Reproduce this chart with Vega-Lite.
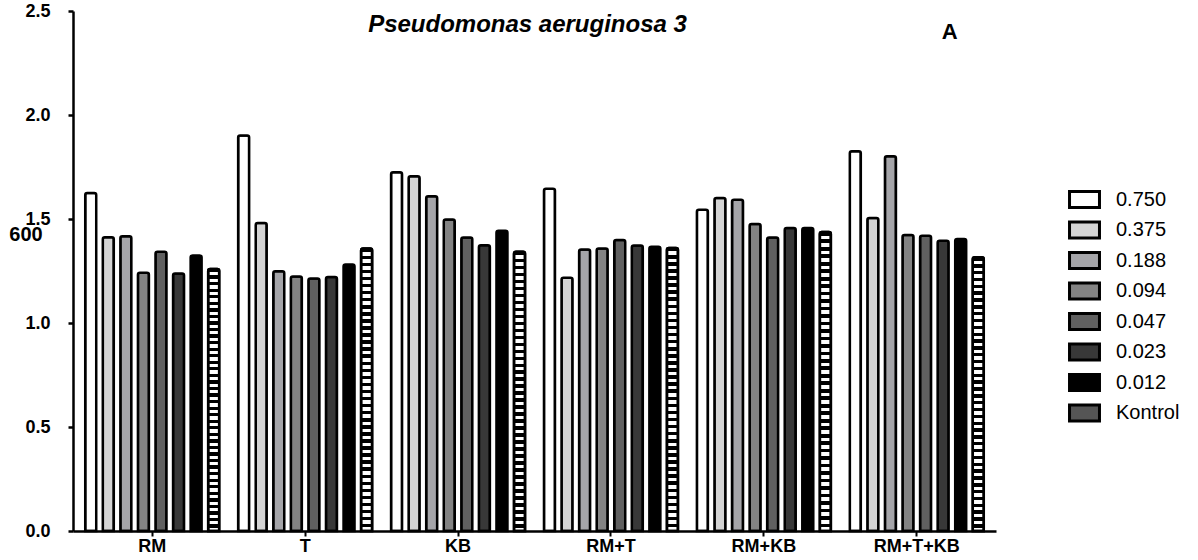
{
  "$schema": "https://vega.github.io/schema/vega-lite/v6.json",
  "width": 923,
  "height": 520,
  "autosize": {"type": "none"},
  "padding": {"left": 73, "top": 11, "right": 202, "bottom": 29},
  "background": "white",
  "config": {"view": {"stroke": null}, "font": "Liberation Sans"},
  "title": {"text": "Pseudomonas aeruginosa 3", "fontSize": 24, "fontWeight": "bold", "fontStyle": "italic", "font": "Liberation Sans", "color": "#000", "anchor": "middle", "baseline": "alphabetic", "offset": -24, "dy": 30, "dx": -7},
  "data": {"values": [
    {"group": "RM", "conc": "0.750", "od": 1.625}, {"group": "RM", "conc": "0.375", "od": 1.412}, {"group": "RM", "conc": "0.188", "od": 1.417}, {"group": "RM", "conc": "0.094", "od": 1.241}, {"group": "RM", "conc": "0.047", "od": 1.342}, {"group": "RM", "conc": "0.023", "od": 1.238}, {"group": "RM", "conc": "0.012", "od": 1.324}, {"group": "RM", "conc": "Kontrol", "od": 1.260},
    {"group": "T", "conc": "0.750", "od": 1.901}, {"group": "T", "conc": "0.375", "od": 1.481}, {"group": "T", "conc": "0.188", "od": 1.249}, {"group": "T", "conc": "0.094", "od": 1.224}, {"group": "T", "conc": "0.047", "od": 1.214}, {"group": "T", "conc": "0.023", "od": 1.221}, {"group": "T", "conc": "0.012", "od": 1.281}, {"group": "T", "conc": "Kontrol", "od": 1.358},
    {"group": "KB", "conc": "0.750", "od": 1.725}, {"group": "KB", "conc": "0.375", "od": 1.706}, {"group": "KB", "conc": "0.188", "od": 1.609}, {"group": "KB", "conc": "0.094", "od": 1.497}, {"group": "KB", "conc": "0.047", "od": 1.411}, {"group": "KB", "conc": "0.023", "od": 1.374}, {"group": "KB", "conc": "0.012", "od": 1.444}, {"group": "KB", "conc": "Kontrol", "od": 1.342},
    {"group": "RM+T", "conc": "0.750", "od": 1.646}, {"group": "RM+T", "conc": "0.375", "od": 1.218}, {"group": "RM+T", "conc": "0.188", "od": 1.353}, {"group": "RM+T", "conc": "0.094", "od": 1.358}, {"group": "RM+T", "conc": "0.047", "od": 1.399}, {"group": "RM+T", "conc": "0.023", "od": 1.372}, {"group": "RM+T", "conc": "0.012", "od": 1.366}, {"group": "RM+T", "conc": "Kontrol", "od": 1.361},
    {"group": "RM+KB", "conc": "0.750", "od": 1.545}, {"group": "RM+KB", "conc": "0.375", "od": 1.601}, {"group": "RM+KB", "conc": "0.188", "od": 1.592}, {"group": "RM+KB", "conc": "0.094", "od": 1.476}, {"group": "RM+KB", "conc": "0.047", "od": 1.411}, {"group": "RM+KB", "conc": "0.023", "od": 1.457}, {"group": "RM+KB", "conc": "0.012", "od": 1.457}, {"group": "RM+KB", "conc": "Kontrol", "od": 1.438},
    {"group": "RM+T+KB", "conc": "0.750", "od": 1.826}, {"group": "RM+T+KB", "conc": "0.375", "od": 1.505}, {"group": "RM+T+KB", "conc": "0.188", "od": 1.802}, {"group": "RM+T+KB", "conc": "0.094", "od": 1.423}, {"group": "RM+T+KB", "conc": "0.047", "od": 1.419}, {"group": "RM+T+KB", "conc": "0.023", "od": 1.396}, {"group": "RM+T+KB", "conc": "0.012", "od": 1.404}, {"group": "RM+T+KB", "conc": "Kontrol", "od": 1.316}
  ]},
  "layer": [
    {
      "mark": {"type": "bar", "stroke": "#000", "strokeWidth": 2.5, "cornerRadiusTopLeft": 2, "cornerRadiusTopRight": 2, "opacity": 1},
      "encoding": {
        "x": {"field": "group", "type": "nominal", "sort": ["RM", "T", "KB", "RM+T", "RM+KB", "RM+T+KB"], "scale": {"paddingInner": 0.124, "paddingOuter": 0.08},
          "axis": {"title": null, "labelAngle": 0, "labelFontSize": 18, "labelFontWeight": "bold", "labelColor": "#000", "labelFont": "Liberation Sans", "tickSize": 5, "tickWidth": 2, "tickColor": "#000", "domainColor": "#000", "domainWidth": 2.5, "labelPadding": 1, "bandPosition": 0.5, "grid": false}},
        "xOffset": {"field": "conc", "type": "nominal", "sort": ["0.750", "0.375", "0.188", "0.094", "0.047", "0.023", "0.012", "Kontrol"], "scale": {"paddingInner": 0.374, "paddingOuter": 0}},
        "y": {"field": "od", "type": "quantitative", "scale": {"domain": [0, 2.5], "nice": false},
          "axis": {"values": [0, 0.5, 1, 1.5, 2, 2.5], "format": ".1f", "labelFontSize": 18, "labelFontWeight": "bold", "labelColor": "#000", "labelFont": "Liberation Sans", "labelPadding": 18, "labelFlush": false, "labelOverlap": false, "tickSize": 5, "tickWidth": 2.5, "tickColor": "#000", "domainColor": "#000", "domainWidth": 2.5, "grid": false,
            "title": "600", "titleAngle": 0, "titleFontSize": 20, "titleFontWeight": "bold", "titleFont": "Liberation Sans", "titleColor": "#000", "titleX": -47.5, "titleY": 223.5, "titleAlign": "center", "titleBaseline": "middle"}},
        "color": {"field": "conc", "type": "nominal",
          "scale": {"domain": ["0.750", "0.375", "0.188", "0.094", "0.047", "0.023", "0.012", "Kontrol"],
            "range": ["#ffffff", "#d4d4d4", "#a5a5a9", "#838383", "#606060", "#383838", "#000000", "#555555"]},
          "legend": {"title": null, "orient": "none", "legendX": 996, "legendY": 173, "padding": 0,
            "symbolType": "M-1.07,-0.57H1.07V0.57H-1.07Z", "symbolSize": 784, "symbolStrokeColor": "#000", "symbolStrokeWidth": 3, "symbolOpacity": 1,
            "labelFontSize": 20, "labelFont": "Liberation Sans", "labelColor": "#000", "labelOffset": 16, "rowPadding": 0.5}}
      }
    },
    {
      "transform": [{"filter": "datum.conc === 'Kontrol'"}],
      "mark": {"type": "bar", "stroke": "#000", "strokeWidth": 2.5, "cornerRadiusTopLeft": 2, "cornerRadiusTopRight": 2, "opacity": 1,
        "fill": {"gradient": "linear", "x1": 0, "y1": 0, "x2": 0, "y2": 1, "stops": [
          {"offset": 0, "color": "#000"}, {"offset": 0.0125, "color": "#000"}, {"offset": 0.0125, "color": "#fff"}, {"offset": 0.025, "color": "#fff"},
          {"offset": 0.025, "color": "#000"}, {"offset": 0.0375, "color": "#000"}, {"offset": 0.0375, "color": "#fff"}, {"offset": 0.05, "color": "#fff"},
          {"offset": 0.05, "color": "#000"}, {"offset": 0.0625, "color": "#000"}, {"offset": 0.0625, "color": "#fff"}, {"offset": 0.075, "color": "#fff"},
          {"offset": 0.075, "color": "#000"}, {"offset": 0.0875, "color": "#000"}, {"offset": 0.0875, "color": "#fff"}, {"offset": 0.1, "color": "#fff"},
          {"offset": 0.1, "color": "#000"}, {"offset": 0.1125, "color": "#000"}, {"offset": 0.1125, "color": "#fff"}, {"offset": 0.125, "color": "#fff"},
          {"offset": 0.125, "color": "#000"}, {"offset": 0.1375, "color": "#000"}, {"offset": 0.1375, "color": "#fff"}, {"offset": 0.15, "color": "#fff"},
          {"offset": 0.15, "color": "#000"}, {"offset": 0.1625, "color": "#000"}, {"offset": 0.1625, "color": "#fff"}, {"offset": 0.175, "color": "#fff"},
          {"offset": 0.175, "color": "#000"}, {"offset": 0.1875, "color": "#000"}, {"offset": 0.1875, "color": "#fff"}, {"offset": 0.2, "color": "#fff"},
          {"offset": 0.2, "color": "#000"}, {"offset": 0.2125, "color": "#000"}, {"offset": 0.2125, "color": "#fff"}, {"offset": 0.225, "color": "#fff"},
          {"offset": 0.225, "color": "#000"}, {"offset": 0.2375, "color": "#000"}, {"offset": 0.2375, "color": "#fff"}, {"offset": 0.25, "color": "#fff"},
          {"offset": 0.25, "color": "#000"}, {"offset": 0.2625, "color": "#000"}, {"offset": 0.2625, "color": "#fff"}, {"offset": 0.275, "color": "#fff"},
          {"offset": 0.275, "color": "#000"}, {"offset": 0.2875, "color": "#000"}, {"offset": 0.2875, "color": "#fff"}, {"offset": 0.3, "color": "#fff"},
          {"offset": 0.3, "color": "#000"}, {"offset": 0.3125, "color": "#000"}, {"offset": 0.3125, "color": "#fff"}, {"offset": 0.325, "color": "#fff"},
          {"offset": 0.325, "color": "#000"}, {"offset": 0.3375, "color": "#000"}, {"offset": 0.3375, "color": "#fff"}, {"offset": 0.35, "color": "#fff"},
          {"offset": 0.35, "color": "#000"}, {"offset": 0.3625, "color": "#000"}, {"offset": 0.3625, "color": "#fff"}, {"offset": 0.375, "color": "#fff"},
          {"offset": 0.375, "color": "#000"}, {"offset": 0.3875, "color": "#000"}, {"offset": 0.3875, "color": "#fff"}, {"offset": 0.4, "color": "#fff"},
          {"offset": 0.4, "color": "#000"}, {"offset": 0.4125, "color": "#000"}, {"offset": 0.4125, "color": "#fff"}, {"offset": 0.425, "color": "#fff"},
          {"offset": 0.425, "color": "#000"}, {"offset": 0.4375, "color": "#000"}, {"offset": 0.4375, "color": "#fff"}, {"offset": 0.45, "color": "#fff"},
          {"offset": 0.45, "color": "#000"}, {"offset": 0.4625, "color": "#000"}, {"offset": 0.4625, "color": "#fff"}, {"offset": 0.475, "color": "#fff"},
          {"offset": 0.475, "color": "#000"}, {"offset": 0.4875, "color": "#000"}, {"offset": 0.4875, "color": "#fff"}, {"offset": 0.5, "color": "#fff"},
          {"offset": 0.5, "color": "#000"}, {"offset": 0.5125, "color": "#000"}, {"offset": 0.5125, "color": "#fff"}, {"offset": 0.525, "color": "#fff"},
          {"offset": 0.525, "color": "#000"}, {"offset": 0.5375, "color": "#000"}, {"offset": 0.5375, "color": "#fff"}, {"offset": 0.55, "color": "#fff"},
          {"offset": 0.55, "color": "#000"}, {"offset": 0.5625, "color": "#000"}, {"offset": 0.5625, "color": "#fff"}, {"offset": 0.575, "color": "#fff"},
          {"offset": 0.575, "color": "#000"}, {"offset": 0.5875, "color": "#000"}, {"offset": 0.5875, "color": "#fff"}, {"offset": 0.6, "color": "#fff"},
          {"offset": 0.6, "color": "#000"}, {"offset": 0.6125, "color": "#000"}, {"offset": 0.6125, "color": "#fff"}, {"offset": 0.625, "color": "#fff"},
          {"offset": 0.625, "color": "#000"}, {"offset": 0.6375, "color": "#000"}, {"offset": 0.6375, "color": "#fff"}, {"offset": 0.65, "color": "#fff"},
          {"offset": 0.65, "color": "#000"}, {"offset": 0.6625, "color": "#000"}, {"offset": 0.6625, "color": "#fff"}, {"offset": 0.675, "color": "#fff"},
          {"offset": 0.675, "color": "#000"}, {"offset": 0.6875, "color": "#000"}, {"offset": 0.6875, "color": "#fff"}, {"offset": 0.7, "color": "#fff"},
          {"offset": 0.7, "color": "#000"}, {"offset": 0.7125, "color": "#000"}, {"offset": 0.7125, "color": "#fff"}, {"offset": 0.725, "color": "#fff"},
          {"offset": 0.725, "color": "#000"}, {"offset": 0.7375, "color": "#000"}, {"offset": 0.7375, "color": "#fff"}, {"offset": 0.75, "color": "#fff"},
          {"offset": 0.75, "color": "#000"}, {"offset": 0.7625, "color": "#000"}, {"offset": 0.7625, "color": "#fff"}, {"offset": 0.775, "color": "#fff"},
          {"offset": 0.775, "color": "#000"}, {"offset": 0.7875, "color": "#000"}, {"offset": 0.7875, "color": "#fff"}, {"offset": 0.8, "color": "#fff"},
          {"offset": 0.8, "color": "#000"}, {"offset": 0.8125, "color": "#000"}, {"offset": 0.8125, "color": "#fff"}, {"offset": 0.825, "color": "#fff"},
          {"offset": 0.825, "color": "#000"}, {"offset": 0.8375, "color": "#000"}, {"offset": 0.8375, "color": "#fff"}, {"offset": 0.85, "color": "#fff"},
          {"offset": 0.85, "color": "#000"}, {"offset": 0.8625, "color": "#000"}, {"offset": 0.8625, "color": "#fff"}, {"offset": 0.875, "color": "#fff"},
          {"offset": 0.875, "color": "#000"}, {"offset": 0.8875, "color": "#000"}, {"offset": 0.8875, "color": "#fff"}, {"offset": 0.9, "color": "#fff"},
          {"offset": 0.9, "color": "#000"}, {"offset": 0.9125, "color": "#000"}, {"offset": 0.9125, "color": "#fff"}, {"offset": 0.925, "color": "#fff"},
          {"offset": 0.925, "color": "#000"}, {"offset": 0.9375, "color": "#000"}, {"offset": 0.9375, "color": "#fff"}, {"offset": 0.95, "color": "#fff"},
          {"offset": 0.95, "color": "#000"}, {"offset": 0.9625, "color": "#000"}, {"offset": 0.9625, "color": "#fff"}, {"offset": 0.975, "color": "#fff"},
          {"offset": 0.975, "color": "#000"}, {"offset": 0.9875, "color": "#000"}, {"offset": 0.9875, "color": "#fff"}, {"offset": 1, "color": "#fff"}
        ]}},
      "encoding": {
        "x": {"field": "group", "type": "nominal", "sort": ["RM", "T", "KB", "RM+T", "RM+KB", "RM+T+KB"]},
        "xOffset": {"field": "conc", "type": "nominal", "sort": ["0.750", "0.375", "0.188", "0.094", "0.047", "0.023", "0.012", "Kontrol"]},
        "y": {"field": "od", "type": "quantitative"}
      }
    },
    {
      "data": {"values": [{"label": "A"}]},
      "mark": {"type": "text", "fontSize": 22, "fontWeight": "bold", "font": "Liberation Sans", "color": "#000", "dx": 33, "align": "center", "baseline": "middle"},
      "encoding": {
        "x": {"datum": "RM+T+KB"},
        "y": {"datum": 2.4},
        "text": {"field": "label"}
      }
    }
  ]
}
